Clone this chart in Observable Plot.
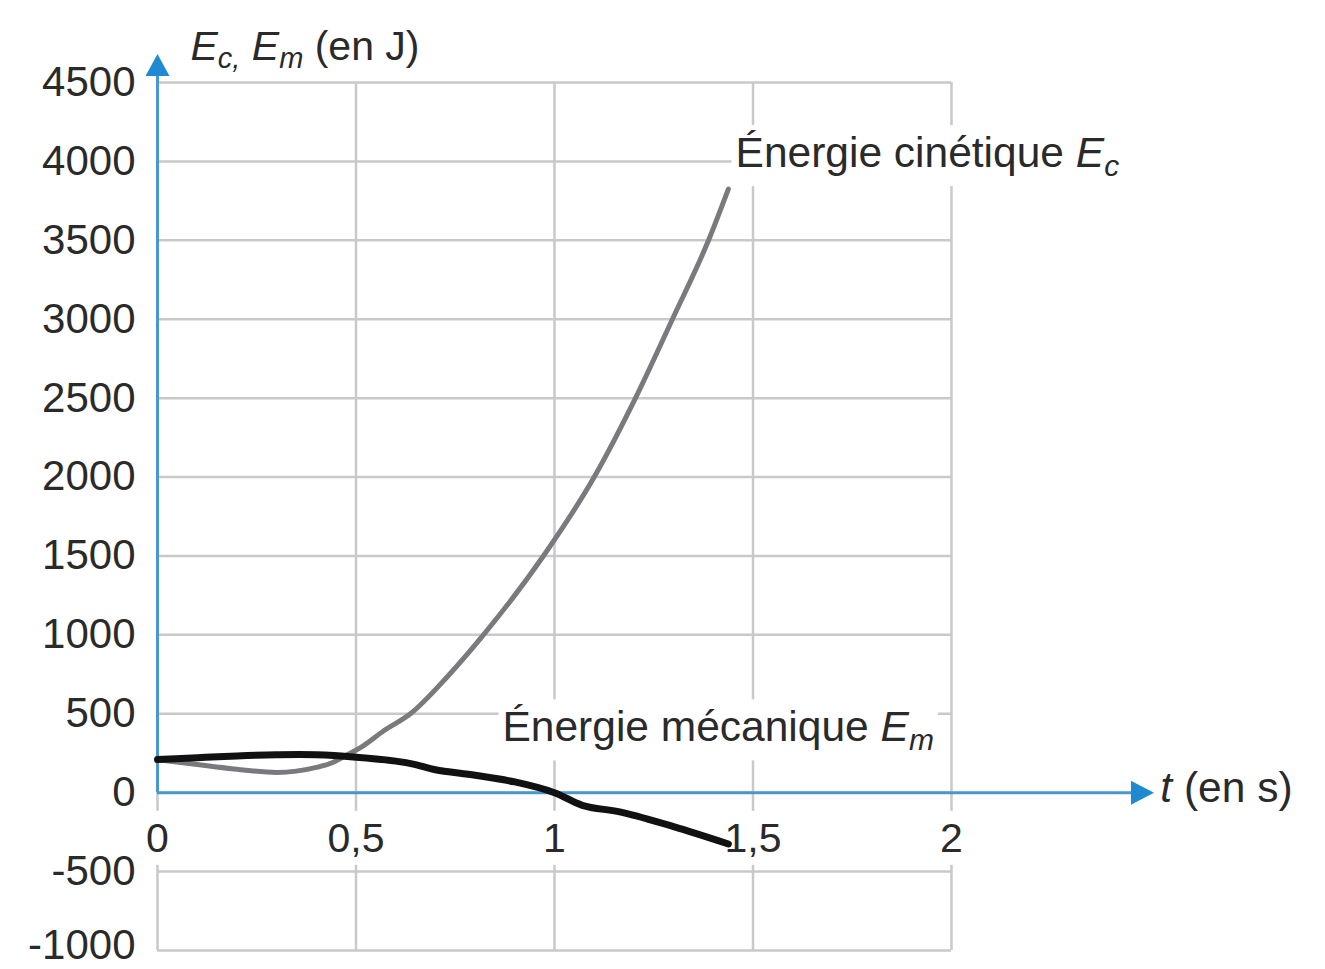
<!DOCTYPE html>
<html>
<head>
<meta charset="utf-8">
<script src="https://cdn.jsdelivr.net/npm/d3@7"></script>
<script src="https://cdn.jsdelivr.net/npm/@observablehq/plot@0.6"></script>
<style>
  html, body { margin: 0; padding: 0; background: #ffffff; overflow: hidden; }
  #chart svg { display: block; }
</style>
</head>
<body>
<div id="chart"></div>
<script>
// ---- Data ----
const tEc = [0, 0.1, 0.2, 0.3, 0.4, 0.44, 0.474, 0.52, 0.57, 0.637, 0.73, 0.821, 0.972, 1.10, 1.204, 1.297, 1.388, 1.438];
const ecValues = [210, 178, 148, 128, 160, 190, 234, 300, 392, 500, 735, 1000, 1500, 2000, 2500, 3000, 3500, 3825];

const tEm = [0, 0.1, 0.2, 0.3, 0.4, 0.5, 0.6, 0.65, 0.7, 0.8, 0.9, 1.0, 1.07, 1.17, 1.3, 1.438];
const emValues = [210, 222, 233, 240, 240, 225, 200, 178, 145, 110, 68, 0, -80, -125, -215, -325];

const xTicks = [0, 0.5, 1, 1.5, 2];
const xTickLabels = ["0", "0,5", "1", "1,5", "2"];
const yTicks = [-1000, -500, 0, 500, 1000, 1500, 2000, 2500, 3000, 3500, 4000, 4500];
const yTickLabels = ["-1000", "-500", "0", "500", "1000", "1500", "2000", "2500", "3000", "3500", "4000", "4500"];

const ecLabel = "Énergie cinétique Ec";
const emLabel = "Énergie mécanique Em";
const yTitle = "Ec, Em (en J)";
const xTitle = "t (en s)";

// ---- Build tables ----
const ec = tEc.map((t, i) => ({t, e: ecValues[i]}));
const em = tEm.map((t, i) => ({t, e: emValues[i]}));
const yTickRows = yTicks.map((v, i) => ({v, label: yTickLabels[i]}));
const yTickMain = yTickRows.filter(d => d.v !== -1000);
const yTickBottom = yTickRows.filter(d => d.v === -1000);

const GRID = "#c9c9cc";
const BLUE = "#4a97d0";
const ARROW = "#1f8ad2";
const INK = "#2a2a2a";

const xAxisEnd = 2.51;
const yAxisEnd = 4680;

const arrowUp = { draw(ctx) { ctx.moveTo(0, 0); ctx.lineTo(12, 22); ctx.lineTo(-12, 22); ctx.closePath(); } };
const arrowRight = { draw(ctx) { ctx.moveTo(0, 0); ctx.lineTo(-23, -12); ctx.lineTo(-23, 12); ctx.closePath(); } };

const svg = Plot.plot({
  width: 1325,
  height: 969,
  marginLeft: 157,
  marginRight: 175.5,
  marginTop: 82,
  marginBottom: 19,
  style: { fontFamily: "'Liberation Sans', Arial, sans-serif", background: "#ffffff", overflow: "visible" },
  x: { domain: [0, 2.5], axis: null },
  y: { domain: [-1000, 4500], axis: null },
  marks: [
    // grid
    Plot.ruleY(yTicks, { x1: 0, x2: 2, stroke: GRID, strokeWidth: 2.5 }),
    Plot.ruleX(xTicks, { y1: -1000, y2: 4500, stroke: GRID, strokeWidth: 2.5 }),
    // y tick labels
    Plot.text(yTickMain, { x: 0, y: "v", text: "label", dx: -22, textAnchor: "end", fontSize: 42, fill: INK }),
    Plot.text(yTickBottom, { x: 0, y: "v", text: "label", dx: -22, dy: -5, textAnchor: "end", fontSize: 42, fill: INK }),
    // x tick labels (with white box)
    Plot.text(xTicks, { x: d => d, y: 0, text: (d, i) => xTickLabels[i], dy: 46, textAnchor: "middle", fontSize: 41, fill: INK, className: "boxed" }),
    // series labels (with white box)
    Plot.text([ecLabel], { x: 1.456, y: 4050, text: d => d, textAnchor: "start", fontSize: 42.5, fill: INK, className: "boxed lbl-ec" }),
    Plot.text([emLabel], { x: 0.869, y: 411, text: d => d, textAnchor: "start", fontSize: 42.5, fill: INK, className: "boxed lbl-em" }),
    // axis titles
    Plot.text([yTitle], { x: 0.083, y: 4728, text: d => d, textAnchor: "start", fontSize: 41, fill: INK, className: "ttl-y" }),
    Plot.text([xTitle], { x: 2.526, y: 25, text: d => d, textAnchor: "start", fontSize: 42.5, fill: INK, className: "ttl-x" }),
    // blue axes
    Plot.ruleY([0], { x1: 0, x2: xAxisEnd - 0.03, stroke: BLUE, strokeWidth: 3 }),
    Plot.ruleX([0], { y1: 0, y2: yAxisEnd - 80, stroke: BLUE, strokeWidth: 3 }),
    Plot.dot([0], { x: 0, y: yAxisEnd, symbol: arrowUp, r: 10, fill: ARROW, stroke: null }),
    Plot.dot([0], { x: xAxisEnd, y: 0, symbol: arrowRight, r: 10, fill: ARROW, stroke: null }),
    // curves
    Plot.line(ec, { x: "t", y: "e", stroke: "#7a7a7e", strokeWidth: 5, curve: "monotone-x" }),
    Plot.line(em, { x: "t", y: "e", stroke: "#111111", strokeWidth: 7, curve: "catmull-rom" })
  ]
});

document.getElementById("chart").append(svg);

// ---- rich text (italic symbols, subscripts) ----
const NS = "http://www.w3.org/2000/svg";
function setRich(textEl, parts, fs) {
  while (textEl.firstChild) textEl.removeChild(textEl.firstChild);
  let shift = 0;
  for (const p of parts) {
    const ts = document.createElementNS(NS, "tspan");
    ts.textContent = p.t;
    if (p.i) ts.setAttribute("font-style", "italic");
    const target = p.sub ? Math.round(fs * 0.2) : 0;
    if (p.sub) ts.setAttribute("font-size", Math.round(fs * 0.7));
    if (target !== shift) { ts.setAttribute("dy", target - shift); shift = target; }
    textEl.appendChild(ts);
  }
}
function rich(cls, parts, fs) {
  svg.querySelectorAll("g." + cls + " text").forEach(t => setRich(t, parts, fs));
}
rich("lbl-ec", [{t: "Énergie cinétique "}, {t: "E", i: true}, {t: "c", i: true, sub: true}], 42.5);
rich("lbl-em", [{t: "Énergie mécanique "}, {t: "E", i: true}, {t: "m", i: true, sub: true}], 42.5);
rich("ttl-y", [{t: "E", i: true}, {t: "c,", i: true, sub: true}, {t: " "}, {t: "E", i: true}, {t: "m", i: true, sub: true}, {t: " (en J)"}], 41);
rich("ttl-x", [{t: "t", i: true}, {t: " (en s)"}], 42.5);

// ---- white boxes behind labels that sit on the grid ----
svg.querySelectorAll("g.boxed text").forEach(t => {
  const b = t.getBBox();
  const r = document.createElementNS(NS, "rect");
  const pad = 4;
  r.setAttribute("x", b.x - pad);
  r.setAttribute("y", b.y - pad);
  r.setAttribute("width", b.width + 2 * pad);
  r.setAttribute("height", b.height + 2 * pad);
  r.setAttribute("fill", "#ffffff");
  const tr = t.getAttribute("transform");
  if (tr) r.setAttribute("transform", tr);
  t.parentNode.insertBefore(r, t);
});
</script>
</body>
</html>
